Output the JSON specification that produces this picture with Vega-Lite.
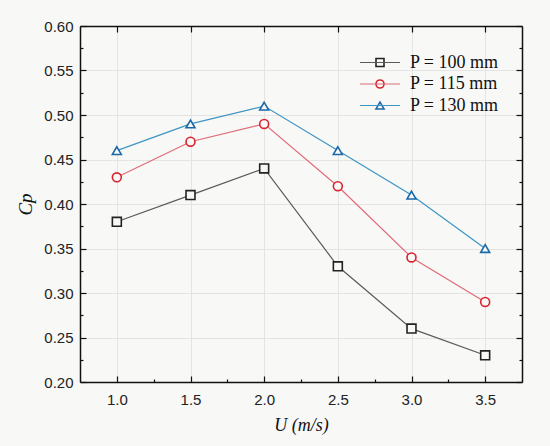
{
  "$schema": "https://vega.github.io/schema/vega-lite/v6.json",
  "width": 442,
  "height": 356,
  "autosize": "none",
  "padding": {"left": 80, "top": 26, "right": 28, "bottom": 64},
  "background": "#f8f8f6",
  "data": {
    "values": [
      {"U": 1.0, "Cp": 0.38, "P": "P = 100 mm"},
      {"U": 1.5, "Cp": 0.41, "P": "P = 100 mm"},
      {"U": 2.0, "Cp": 0.44, "P": "P = 100 mm"},
      {"U": 2.5, "Cp": 0.33, "P": "P = 100 mm"},
      {"U": 3.0, "Cp": 0.26, "P": "P = 100 mm"},
      {"U": 3.5, "Cp": 0.23, "P": "P = 100 mm"},
      {"U": 1.0, "Cp": 0.43, "P": "P = 115 mm"},
      {"U": 1.5, "Cp": 0.47, "P": "P = 115 mm"},
      {"U": 2.0, "Cp": 0.49, "P": "P = 115 mm"},
      {"U": 2.5, "Cp": 0.42, "P": "P = 115 mm"},
      {"U": 3.0, "Cp": 0.34, "P": "P = 115 mm"},
      {"U": 3.5, "Cp": 0.29, "P": "P = 115 mm"},
      {"U": 1.0, "Cp": 0.46, "P": "P = 130 mm"},
      {"U": 1.5, "Cp": 0.49, "P": "P = 130 mm"},
      {"U": 2.0, "Cp": 0.51, "P": "P = 130 mm"},
      {"U": 2.5, "Cp": 0.46, "P": "P = 130 mm"},
      {"U": 3.0, "Cp": 0.41, "P": "P = 130 mm"},
      {"U": 3.5, "Cp": 0.35, "P": "P = 130 mm"}
    ]
  },
  "layer": [
    {
      "mark": {"type": "point", "opacity": 0},
      "encoding": {
        "x": {
          "field": "U", "type": "quantitative",
          "scale": {"domain": [0.75, 3.75], "nice": false, "zero": false},
          "axis": {
            "orient": "top", "title": null, "labels": false,
            "values": [1, 1.5, 2, 2.5, 3, 3.5],
            "tickSize": -6, "grid": true
          }
        },
        "y": {
          "field": "Cp", "type": "quantitative",
          "scale": {"domain": [0.2, 0.6], "nice": false, "zero": false},
          "axis": {
            "orient": "right", "title": null, "labels": false,
            "values": [0.2, 0.225, 0.25, 0.275, 0.3, 0.325, 0.35, 0.375, 0.4, 0.425, 0.45, 0.475, 0.5, 0.525, 0.55, 0.575, 0.6],
            "tickSize": {"condition": {"test": "abs(datum.value*20 - round(datum.value*20)) < 0.001", "value": -6}, "value": -3},
            "grid": true,
            "gridOpacity": {"condition": {"test": "abs(datum.value*20 - round(datum.value*20)) < 0.001", "value": 1}, "value": 0}
          }
        }
      }
    },
    {
      "mark": {"type": "line", "strokeWidth": 1.2},
      "encoding": {
        "x": {
          "field": "U", "type": "quantitative",
          "axis": {
            "orient": "bottom", "title": "U (m/s)", "grid": false,
            "values": [1, 1.25, 1.5, 1.75, 2, 2.25, 2.5, 2.75, 3, 3.25, 3.5],
            "tickSize": {"condition": {"test": "abs(datum.value*2 - round(datum.value*2)) < 0.001", "value": -6}, "value": -3},
            "labelExpr": "abs(datum.value*2 - round(datum.value*2)) < 0.001 ? format(datum.value, '.1f') : ''",
            "labelPadding": 16, "labelOverlap": false, "labelFlush": false,
            "titleFontSize": 18, "titlePadding": 6
          }
        },
        "y": {
          "field": "Cp", "type": "quantitative",
          "axis": {
            "orient": "left", "title": "Cp", "grid": false,
            "values": [0.2, 0.225, 0.25, 0.275, 0.3, 0.325, 0.35, 0.375, 0.4, 0.425, 0.45, 0.475, 0.5, 0.525, 0.55, 0.575, 0.6],
            "tickSize": {"condition": {"test": "abs(datum.value*20 - round(datum.value*20)) < 0.001", "value": -6}, "value": -3},
            "labelExpr": "abs(datum.value*20 - round(datum.value*20)) < 0.001 ? format(datum.value, '.2f') : ''",
            "labelPadding": 13, "labelOverlap": false, "labelFlush": false,
            "titleFontSize": 19, "titlePadding": 8
          }
        },
        "color": {
          "field": "P", "type": "nominal",
          "scale": {"range": ["#5a5a5a", "#e06b7a", "#3d95c4"]},
          "legend": {
            "orient": "none", "legendX": 291, "legendY": 27.5, "title": null,
            "symbolType": "M-5,0H5", "symbolSize": 64, "symbolStrokeWidth": 1.2,
            "labelFont": "Liberation Serif", "labelFontSize": 18, "labelColor": "#111",
            "labelOffset": 21, "rowPadding": 3.5, "padding": 0
          }
        }
      }
    },
    {
      "mark": {"type": "point", "filled": true, "fill": "#f8f8f6", "strokeWidth": 1.6, "size": 80, "opacity": 1},
      "encoding": {
        "x": {"field": "U", "type": "quantitative", "axis": null},
        "y": {"field": "Cp", "type": "quantitative", "axis": null},
        "stroke": {
          "field": "P", "type": "nominal",
          "scale": {"range": ["#222222", "#d9232f", "#1a68a8"]},
          "legend": {
            "orient": "none", "legendX": 291, "legendY": 27.5, "title": null,
            "symbolSize": 64, "symbolStrokeWidth": 1.6, "symbolFillColor": "#f8f8f6",
            "labelFont": "Liberation Serif", "labelFontSize": 18, "labelOpacity": 0,
            "labelOffset": 21, "rowPadding": 3.5, "padding": 0
          }
        },
        "shape": {
          "field": "P", "type": "nominal",
          "scale": {"range": ["square", "circle", "triangle-up"]},
          "legend": {
            "orient": "none", "legendX": 291, "legendY": 27.5, "title": null,
            "symbolSize": 64, "symbolStrokeWidth": 1.6, "symbolFillColor": "#f8f8f6",
            "labelFont": "Liberation Serif", "labelFontSize": 18, "labelOpacity": 0,
            "labelOffset": 21, "rowPadding": 3.5, "padding": 0
          }
        }
      }
    }
  ],
  "resolve": {
    "axis": {"x": "independent", "y": "independent"},
    "legend": {"color": "independent"}
  },
  "config": {
    "view": {"stroke": null},
    "axis": {
      "domainColor": "#111111", "domainWidth": 1.5,
      "tickColor": "#111111", "tickWidth": 1.2,
      "labelFont": "Liberation Sans", "labelFontSize": 15, "labelColor": "#222222",
      "titleFont": "Liberation Serif", "titleFontStyle": "italic", "titleFontWeight": "normal", "titleColor": "#111111",
      "gridColor": "#e4e4e4", "gridWidth": 1
    }
  }
}
